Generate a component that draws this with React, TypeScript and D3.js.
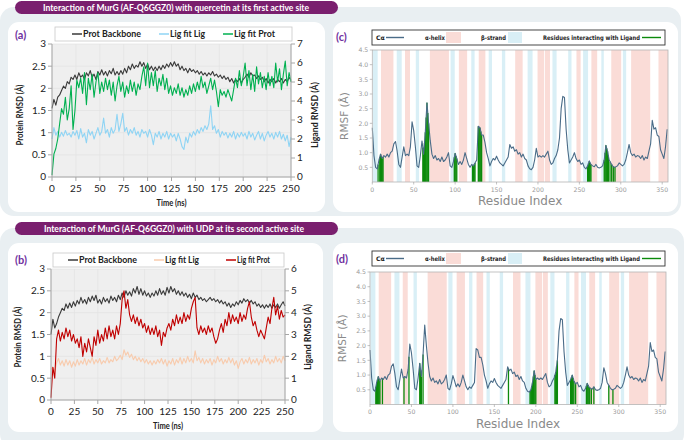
import React from "react";
import * as d3 from "d3";

// ---------------- DATA ----------------
const timeStepNs = 2; // sampling interval of the series below (t = 0..250 ns)
const timeTicks = [0, 25, 50, 75, 100, 125, 150, 175, 200, 225, 250];
const proteinTicks = [0, 0.5, 1, 1.5, 2, 2.5, 3];

// Panel (a): quercetin, first active site
const aBackbone = [
  1.55, 1.75, 1.62, 1.8, 1.85, 1.95, 2.05, 2.0, 2.15, 2.1,
  2.25, 2.2, 2.3, 2.2, 2.35, 2.25, 2.3, 2.2, 2.35, 2.28,
  2.4, 2.25, 2.32, 2.2, 2.38, 2.3, 2.42, 2.3, 2.38, 2.28,
  2.4, 2.33, 2.45, 2.3, 2.38, 2.3, 2.4, 2.32, 2.45, 2.35,
  2.5, 2.42, 2.55, 2.45, 2.52, 2.48, 2.6, 2.5, 2.58, 2.45,
  2.55, 2.42, 2.5, 2.4, 2.48, 2.4, 2.5, 2.42, 2.52, 2.45,
  2.55, 2.48, 2.58, 2.5, 2.6, 2.5, 2.55, 2.42, 2.5, 2.4,
  2.45, 2.35, 2.45, 2.38, 2.42, 2.35, 2.4, 2.32, 2.38, 2.3,
  2.35, 2.28, 2.35, 2.3, 2.38, 2.28, 2.32, 2.25, 2.3, 2.22,
  2.28, 2.2, 2.25, 2.15, 2.22, 2.12, 2.2, 2.15, 2.22, 2.12,
  2.2, 2.25, 2.32, 2.25, 2.35, 2.28, 2.3, 2.22, 2.28, 2.2,
  2.25, 2.15, 2.22, 2.12, 2.2, 2.15, 2.22, 2.12, 2.2, 2.15,
  2.22, 2.12, 2.2, 2.15, 2.25, 2.18,
];
const aLigFitLig = [
  2.0, 2.6, 2.2, 2.4, 2.1, 2.35, 2.15, 2.45, 2.2, 2.3,
  2.1, 2.4, 2.2, 2.45, 2.0, 2.55, 2.1, 2.3, 1.8, 2.5,
  2.2, 2.4, 2.0, 2.3, 2.6, 2.2, 2.4, 3.1, 2.3, 2.5,
  2.1, 2.6, 2.3, 2.5, 3.3, 2.4, 2.8, 3.35, 2.4, 2.6,
  2.2, 2.5, 2.3, 2.6, 2.2, 2.4, 2.1, 2.5, 2.3, 2.4,
  2.1, 2.5, 2.2, 1.7, 2.3, 2.1, 2.4, 2.0, 2.3, 2.1,
  2.4, 2.0, 2.3, 2.1, 2.25, 1.9, 2.3, 2.0, 1.6, 1.45,
  2.1, 1.8, 2.3, 2.1, 2.4, 2.2, 2.5, 2.3, 2.6, 2.4,
  2.7, 2.5, 2.8, 3.75, 2.5, 2.7, 2.3, 2.5, 2.1, 2.4,
  2.2, 2.35, 2.05, 2.3, 2.1, 2.4, 2.0, 2.3, 2.1, 2.35,
  2.15, 2.3, 2.0, 2.4, 2.1, 2.3, 1.95, 2.2, 2.4, 2.0,
  2.3, 1.9, 2.2, 2.4, 2.1, 2.3, 2.0, 2.35, 2.1, 2.4,
  2.0, 2.25, 1.9, 2.2, 1.6, 2.1,
];
const aLigFitProt = [
  0.1, 1.2, 1.5, 2.0, 2.8, 3.6, 3.3, 4.2, 3.0, 3.6,
  4.8, 2.5, 3.5, 5.1, 4.7, 5.2, 4.4, 5.5, 3.8, 5.2,
  4.6, 5.4, 4.2, 5.0, 5.5, 4.4, 5.0, 4.5, 5.2, 4.6,
  5.1, 4.3, 5.0, 4.0, 4.8, 5.3, 4.5, 5.0, 4.2, 4.8,
  4.4, 5.1, 4.5, 5.0, 4.3, 4.9, 4.6, 5.3, 5.8, 4.8,
  6.0, 4.7, 5.5, 4.8, 5.6, 4.5, 5.2, 4.8, 5.4, 4.6,
  5.2, 4.4, 4.8, 4.3, 4.7, 4.4, 4.9, 4.3, 4.7, 4.2,
  4.6, 4.3, 4.8, 4.4, 4.9, 4.5, 5.0, 4.6, 5.3, 4.7,
  5.0, 4.4, 4.8, 5.2, 4.6, 5.1, 4.5, 3.7, 4.6, 4.3,
  4.5, 4.2, 4.6, 4.3, 4.0, 4.6, 5.2, 4.7, 5.6, 4.8,
  5.3, 6.0, 4.8, 5.6, 4.6, 5.4, 4.5, 5.8, 4.9, 5.5,
  4.7, 5.3, 4.6, 5.5, 4.8, 5.3, 4.7, 6.0, 5.0, 5.7,
  4.6, 5.4, 6.1, 4.8, 5.5, 5.0,
];

// Panel (b): UDP, second active site
const bBackbone = [
  1.5, 1.85, 1.65, 1.75, 1.9, 2.0, 2.1, 2.05, 2.2, 2.1,
  2.22, 2.12, 2.25, 2.15, 2.28, 2.2, 2.35, 2.22, 2.3, 2.2,
  2.35, 2.25, 2.38, 2.28, 2.4, 2.22, 2.3, 2.2, 2.35, 2.25,
  2.32, 2.22, 2.38, 2.28, 2.35, 2.25, 2.4, 2.3, 2.45, 2.35,
  2.5, 2.4, 2.48, 2.38, 2.55, 2.45, 2.6, 2.42, 2.55, 2.4,
  2.5, 2.38, 2.45, 2.35, 2.45, 2.38, 2.5, 2.4, 2.55, 2.42,
  2.5, 2.4, 2.58, 2.45, 2.6, 2.48, 2.55, 2.42, 2.5, 2.4,
  2.48, 2.38, 2.45, 2.35, 2.42, 2.32, 2.45, 2.35, 2.4, 2.3,
  2.35, 2.28, 2.32, 2.25, 2.3, 2.35, 2.28, 2.32, 2.25, 2.3,
  2.22, 2.28, 2.2, 2.25, 2.15, 2.22, 2.12, 2.2, 2.15, 2.25,
  2.18, 2.28, 2.22, 2.32, 2.25, 2.3, 2.22, 2.28, 2.2, 2.25,
  2.15, 2.2, 2.12, 2.18, 2.1, 2.18, 2.12, 2.2, 2.1, 2.18,
  2.12, 2.2, 2.1, 2.18, 2.25, 2.15,
];
const bLigFitLig = [
  1.4, 1.5, 1.3, 1.7, 1.9, 1.6, 1.8, 1.55, 1.85, 1.6,
  1.8, 1.5, 1.75, 1.55, 1.85, 1.6, 1.8, 1.65, 1.9, 1.6,
  1.85, 1.7, 1.95, 1.65, 1.85, 1.7, 1.9, 1.65, 1.8, 1.7,
  1.95, 1.7, 1.85, 1.75, 2.0, 1.8, 1.9, 2.05, 1.85, 2.3,
  2.05, 2.2, 1.95, 2.1, 1.85, 2.0, 1.8, 1.95, 1.75, 1.9,
  1.7, 1.85, 1.65, 1.8, 1.6, 1.8, 1.65, 1.85, 1.7, 1.9,
  1.65, 1.85, 1.55, 1.8, 1.65, 1.9, 1.6, 1.85, 1.7, 1.95,
  1.65, 1.9, 1.7, 2.0, 1.75, 1.9, 1.7, 2.25, 1.8, 1.95,
  1.7, 1.9, 1.65, 1.85, 1.7, 1.9, 1.6, 1.85, 1.7, 2.0,
  1.75, 1.9, 1.65, 1.85, 1.7, 1.95, 1.7, 1.9, 1.6, 1.8,
  1.45, 1.75, 1.9, 1.65, 1.85, 1.7, 1.95, 1.65, 1.85, 1.7,
  1.9, 1.6, 1.85, 1.7, 2.05, 1.75, 1.9, 1.65, 1.85, 1.7,
  2.0, 1.75, 1.9, 1.7, 2.0, 1.8,
];
const bLigFitProt = [
  0.1, 1.5, 1.0, 2.8, 3.2, 2.7, 3.1, 2.8, 3.3, 2.9,
  3.2, 2.7, 3.0, 2.6, 2.8, 2.4, 2.9, 2.0, 2.6, 2.2,
  2.8, 2.4, 2.0, 2.9, 2.5, 3.2, 2.6, 3.0, 2.7, 3.3,
  2.8, 3.4, 2.9, 3.2, 2.8, 3.4, 3.0, 3.5, 4.6, 5.0,
  4.2, 4.6, 3.9, 3.6, 3.9, 3.5, 3.8, 3.4, 3.7, 3.3,
  3.5, 3.1, 3.4, 3.0, 3.3, 3.0, 3.4, 2.9, 3.2, 2.5,
  3.1, 2.9, 3.3, 3.5, 3.2, 3.7, 3.4, 3.9, 3.5, 3.8,
  3.5, 4.0, 3.6, 3.9, 3.7, 4.2, 4.5, 4.7, 3.3, 3.0,
  3.4, 3.1, 3.3, 3.0, 3.4, 3.1, 3.3, 2.9, 2.6, 2.8,
  3.2, 3.5, 3.1, 3.7, 3.4, 4.0, 3.5, 3.9, 3.6, 3.8,
  3.5, 4.0, 3.6, 3.9, 3.7, 4.2, 4.5, 3.8, 3.4, 3.6,
  3.2, 2.9, 3.2, 3.0, 2.8, 3.3, 3.8, 3.5, 4.2, 4.7,
  3.9, 4.3, 3.7, 4.1, 3.8, 3.9,
];

// Cα RMSF (Å), residues 0..356, every 2 residues
const rmsfStep = 2;
const rmsfValues = [
  1.85, 0.9, 0.5, 0.45, 0.75, 0.95, 0.8, 0.9, 0.85, 0.95,
  0.85, 1.0, 1.05, 1.3, 1.38, 1.05, 0.6, 0.5, 0.85, 1.2,
  0.9, 0.95, 0.9, 1.2, 2.05, 1.75, 1.2, 0.55, 0.5, 0.9,
  1.4, 0.95, 1.7, 2.7, 2.0, 1.4, 0.95, 0.8, 0.9, 0.75,
  0.8, 0.7, 0.85, 0.7, 0.75, 0.85, 1.0, 0.55, 0.5, 0.7,
  0.98, 0.8, 0.6, 0.7, 0.6, 0.75, 1.0, 0.8, 0.6, 0.5,
  0.6, 0.55, 0.65, 0.75, 1.9, 1.85, 1.6, 1.6, 1.35, 1.0,
  0.8, 0.55, 0.7, 0.8, 0.75, 0.88, 0.75, 0.65, 0.6, 0.55,
  0.65, 0.75, 0.85, 1.28, 1.15, 1.2, 1.05, 1.1, 0.95, 1.0,
  0.85, 0.95, 0.8, 0.75, 0.55, 0.45, 0.42, 0.5, 0.75, 1.15,
  0.85, 0.9, 0.85, 0.9, 0.85, 0.95, 1.05, 0.75, 0.6, 0.65,
  0.8, 0.9, 1.1, 1.5, 2.5, 2.92, 2.88, 1.8, 1.1, 0.65,
  0.75, 0.85, 1.0, 0.8, 0.7, 0.75, 0.6, 0.65, 0.5, 0.45,
  0.55, 0.72, 0.6, 0.55, 0.52, 0.6, 0.5, 0.48, 0.5, 0.55,
  0.75, 1.25, 1.05, 0.75, 0.65, 0.55, 0.5, 0.52, 0.55, 0.65,
  0.6, 0.55, 0.6, 0.75, 1.0, 1.28, 1.0, 0.9, 0.95, 0.85,
  0.9, 0.88, 0.8, 0.9, 0.75, 0.85, 0.8, 1.05, 1.3, 2.1,
  1.8, 1.85, 1.6, 1.55, 1.1, 0.95, 0.8, 1.2, 1.8,
];
const rmsfTicks = [0.5, 1.0, 1.5, 2.0, 2.5, 3.0, 3.5, 4.0, 4.5];
const residueTicks = [0, 50, 100, 150, 200, 250, 300, 350];

// secondary structure (residue ranges)
const helixRanges: [number, number][] = [
  [11, 25], [40, 45], [70, 92], [105, 114], [129, 136], [173, 181], [200, 207],
  [209, 214], [247, 251], [265, 271], [289, 300], [313, 335], [346, 357],
];
const strandRanges: [number, number][] = [
  [1, 6], [30, 35], [53, 56], [95, 99], [120, 123], [141, 144], [157, 160],
  [188, 193], [218, 222], [237, 240], [255, 260], [277, 279], [303, 306],
];
// residues interacting with ligand
const cContacts = [7, 9, 10, 11, 12, 13, 61, 62, 63, 64, 65, 66, 67, 68, 99, 100, 101, 102,
  121, 122, 123, 124, 128, 129, 130, 131, 132, 260, 261, 262, 263, 264,
  280, 281, 282, 283, 284, 285, 287, 289, 291, 293];
const dContacts = [7, 8, 9, 10, 11, 12, 15, 41, 47, 60, 61, 62, 64, 167, 193, 194, 195, 196,
  197, 198, 199, 200, 223, 224, 225, 226, 242, 243, 244, 245, 246, 248,
  261, 262, 263, 264, 265, 267, 270, 288, 293];

// ---------------- STYLE ----------------
const PURPLE_BAR = "#7a1f6e";
const LABEL_PURPLE = "#7030a0";
const OUTER = "#e9eff2";
const EXCEL_FONT = "Lato, 'Open Sans', sans-serif";
const MPL_FONT = "'DejaVu Sans', sans-serif";

type Series = { values: number[]; color: string; axis: "left" | "right" };
type LegendItem = { name: string; color: string; lx: number; tx: number; tl: number };
interface RmsdCfg {
  x0: number; x1: number; y0: number; y1: number;
  rightMax: number;
  series: Series[];
  box: [number, number, number, number];
  items: LegendItem[];
  label: string; labelY: number;
  leftTitleX: number; rightTitleX: number; titleCY: number;
  rightLabelX: number;
}

function RmsdPanel({ c }: { c: RmsdCfg }) {
  const x = d3.scaleLinear().domain([0, 250]).range([c.x0, c.x1]);
  const yL = d3.scaleLinear().domain([0, 3]).range([c.y1, c.y0]);
  const yR = d3.scaleLinear().domain([0, c.rightMax]).range([c.y1, c.y0]);
  const rightTicks = d3.range(0, c.rightMax + 1);
  const axisCol = "#a6a6a6";
  const [bx, by, bw, bh] = c.box;
  return (
    <g>
      <rect x={c.x0} y={c.y0} width={c.x1 - c.x0} height={c.y1 - c.y0} fill="#efefef" />
      {timeTicks.map((t) => (
        <line key={"gx" + t} x1={x(t)} x2={x(t)} y1={c.y0} y2={c.y1} stroke="#e2e2e2" strokeWidth={0.7} />
      ))}
      {proteinTicks.map((v) => (
        <line key={"gy" + v} x1={c.x0} x2={c.x1} y1={yL(v)} y2={yL(v)} stroke="#e2e2e2" strokeWidth={0.7} />
      ))}
      {c.series.map((s, i) => {
        const y = s.axis === "left" ? yL : yR;
        const d = d3.line<number>().x((_, j) => x(j * timeStepNs)).y((v) => y(v))(s.values);
        return <path key={i} d={d ?? ""} fill="none" stroke={s.color} strokeWidth={1.1} strokeLinejoin="round" />;
      })}
      {/* axes */}
      <line x1={c.x0} x2={c.x0} y1={c.y0} y2={c.y1} stroke={axisCol} />
      <line x1={c.x1} x2={c.x1} y1={c.y0} y2={c.y1} stroke={axisCol} />
      <line x1={c.x0} x2={c.x1} y1={c.y1} y2={c.y1} stroke={axisCol} />
      {proteinTicks.map((v) => (
        <g key={"lt" + v}>
          <line x1={c.x0 - 4} x2={c.x0} y1={yL(v)} y2={yL(v)} stroke={axisCol} />
          <text x={c.x0 - 6} y={yL(v) + 3.4} textAnchor="end" fontSize={10} fontFamily={EXCEL_FONT} fill="#222">
            {String(v)}
          </text>
        </g>
      ))}
      {rightTicks.map((v) => (
        <g key={"rt" + v}>
          <line x1={c.x1} x2={c.x1 + 4} y1={yR(v)} y2={yR(v)} stroke={axisCol} />
          <text x={c.rightLabelX} y={yR(v) + 3.4} textAnchor="start" fontSize={10} fontFamily={EXCEL_FONT} fill="#222">
            {String(v)}
          </text>
        </g>
      ))}
      {timeTicks.map((t) => (
        <g key={"bt" + t}>
          <line x1={x(t)} x2={x(t)} y1={c.y1} y2={c.y1 + 4} stroke={axisCol} />
          <text x={x(t)} y={c.y1 + 14.5} textAnchor="middle" fontSize={10} fontFamily={EXCEL_FONT} fill="#222">
            {String(t)}
          </text>
        </g>
      ))}
      <text x={(c.x0 + c.x1) / 2} y={c.y1 + 29} textAnchor="middle" fontSize={10} fontWeight={700}
        fontFamily={EXCEL_FONT} fill="#222" textLength={30} lengthAdjust="spacingAndGlyphs">
        Time (ns)
      </text>
      <text transform={`translate(${c.leftTitleX},${c.titleCY}) rotate(-90)`} textAnchor="middle" fontSize={10}
        fontWeight={700} fontFamily={EXCEL_FONT} fill="#222" textLength={61} lengthAdjust="spacingAndGlyphs">
        Protein RMSD (Å)
      </text>
      <text transform={`translate(${c.rightTitleX},${c.titleCY}) rotate(-90)`} textAnchor="middle" fontSize={10}
        fontWeight={700} fontFamily={EXCEL_FONT} fill="#222" textLength={66} lengthAdjust="spacingAndGlyphs">
        Ligand RMSD (Å)
      </text>
      {/* legend */}
      <rect x={bx} y={by} width={bw} height={bh} fill="#fff" stroke="#c8c8c8" strokeWidth={0.8} />
      {c.items.map((it) => (
        <g key={it.name}>
          <line x1={it.lx} x2={it.tx - 1} y1={by + bh / 2} y2={by + bh / 2} stroke={it.color} strokeWidth={1.5} />
          <text x={it.tx} y={by + bh / 2 + 3.4} fontSize={9.5} fontWeight={700} fontFamily={EXCEL_FONT} fill="#222"
            textLength={it.tl} lengthAdjust="spacingAndGlyphs">
            {it.name}
          </text>
        </g>
      ))}
      <text x={15} y={c.labelY} fontSize={11} fontWeight={700} fontFamily={EXCEL_FONT} fill={LABEL_PURPLE}>
        {c.label}
      </text>
    </g>
  );
}

interface RmsfCfg {
  x0: number; x1: number; y0: number; y1: number;
  contacts: number[];
  boxY: number;
  label: string; labelY: number;
}

function rmsfAt(r: number) {
  const i = Math.min(Math.floor(r / rmsfStep), rmsfValues.length - 2);
  const f = (r - i * rmsfStep) / rmsfStep;
  return rmsfValues[i] * (1 - f) + rmsfValues[i + 1] * f;
}

function RmsfPanel({ c }: { c: RmsfCfg }) {
  const x = d3.scaleLinear().domain([0, 357]).range([c.x0, c.x1]);
  const y = d3.scaleLinear().domain([0, 4.5]).range([c.y1, c.y0]);
  const clampX = (v: number) => Math.max(c.x0, Math.min(c.x1, v));
  const line = d3.line<number>().x((_, i) => x(i * rmsfStep)).y((v) => y(v))(rmsfValues) ?? "";
  const tickCol = "#9a9a9a";
  const bx = 372, bw = 293, bh = 15, by = c.boxY;
  const lt = { fontSize: 6.2, fontWeight: 700, fontFamily: MPL_FONT, fill: "#222" } as const;
  return (
    <g>
      {helixRanges.map(([a, b], i) => (
        <rect key={"h" + i} x={clampX(x(a - 0.5))} y={c.y0} width={clampX(x(b + 0.5)) - clampX(x(a - 0.5))}
          height={c.y1 - c.y0} fill="#fadcd7" />
      ))}
      {strandRanges.map(([a, b], i) => (
        <rect key={"s" + i} x={clampX(x(a - 0.5))} y={c.y0} width={clampX(x(b + 0.5)) - clampX(x(a - 0.5))}
          height={c.y1 - c.y0} fill="#d9eff6" />
      ))}
      {c.contacts.map((r) => (
        <line key={"c" + r} x1={x(r)} x2={x(r)} y1={c.y1} y2={y(rmsfAt(r))} stroke="#0b8a0b" strokeWidth={1.3} />
      ))}
      <path d={line} fill="none" stroke="#4a6c88" strokeWidth={1.1} strokeLinejoin="round" />
      <rect x={c.x0} y={c.y0} width={c.x1 - c.x0} height={c.y1 - c.y0} fill="none" stroke="#b5b5b5" strokeWidth={0.8} />
      {rmsfTicks.map((v) => (
        <g key={"yt" + v}>
          <line x1={c.x0 - 2.5} x2={c.x0} y1={y(v)} y2={y(v)} stroke={tickCol} strokeWidth={0.6} />
          <text x={c.x0 - 4} y={y(v) + 2.2} textAnchor="end" fontSize={6.2} fontFamily={MPL_FONT} fill={tickCol}>
            {v.toFixed(1)}
          </text>
        </g>
      ))}
      {residueTicks.map((r) => (
        <g key={"xt" + r}>
          <line x1={x(r)} x2={x(r)} y1={c.y1} y2={c.y1 + 2.5} stroke={tickCol} strokeWidth={0.6} />
          <text x={x(r)} y={c.y1 + 9.5} textAnchor="middle" fontSize={6.2} fontFamily={MPL_FONT} fill={tickCol}>
            {String(r)}
          </text>
        </g>
      ))}
      <text x={(c.x0 + c.x1) / 2} y={c.y1 + 23} textAnchor="middle" fontSize={12} fontFamily={MPL_FONT} fill="#8a8a8a">
        Residue Index
      </text>
      <text transform={`translate(${c.x0 - 24},${(c.y0 + c.y1) / 2}) rotate(-90)`} textAnchor="middle" fontSize={10.5}
        fontFamily={MPL_FONT} fill="#8a8a8a">
        RMSF (Å)
      </text>
      {/* legend */}
      <rect x={bx} y={by} width={bw} height={bh} fill="#fff" stroke="#333" strokeWidth={0.9} />
      <text x={bx + 4} y={by + 9.8} {...lt}>Cα</text>
      <line x1={bx + 14} x2={bx + 32} y1={by + 7.5} y2={by + 7.5} stroke="#4a6c88" strokeWidth={1.4} />
      <text x={bx + 53} y={by + 9.8} {...lt} textLength={20} lengthAdjust="spacingAndGlyphs">α-helix</text>
      <rect x={bx + 74} y={by + 2} width={15} height={11} fill="#fadcd7" />
      <text x={bx + 109} y={by + 9.8} {...lt} textLength={25} lengthAdjust="spacingAndGlyphs">β-strand</text>
      <rect x={bx + 136} y={by + 2} width={14} height={11} fill="#d9eff6" />
      <text x={bx + 171} y={by + 9.8} {...lt} textLength={97} lengthAdjust="spacingAndGlyphs">
        Residues interacting with Ligand
      </text>
      <line x1={bx + 270} x2={bx + 289} y1={by + 7.5} y2={by + 7.5} stroke="#0b8a0b" strokeWidth={1.4} />
      <text x={336} y={c.labelY} fontSize={11} fontWeight={700} fontFamily={EXCEL_FONT} fill={LABEL_PURPLE}>
        {c.label}
      </text>
    </g>
  );
}

const panelA: RmsdCfg = {
  x0: 52, x1: 291, y0: 44, y1: 177, rightMax: 7,
  series: [
    { values: aBackbone, color: "#3a3a3a", axis: "left" },
    { values: aLigFitLig, color: "#8fd4f4", axis: "right" },
    { values: aLigFitProt, color: "#00b050", axis: "right" },
  ],
  box: [55, 27, 237, 14],
  items: [
    { name: "Prot Backbone", color: "#3a3a3a", lx: 72, tx: 83, tl: 58 },
    { name: "Lig fit Lig", color: "#8fd4f4", lx: 159, tx: 170, tl: 35 },
    { name: "Lig fit Prot", color: "#00b050", lx: 223, tx: 234, tl: 41 },
  ],
  label: "(a)", labelY: 39,
  leftTitleX: 23, rightTitleX: 318, titleCY: 115, rightLabelX: 297,
};

const panelB: RmsdCfg = {
  x0: 51, x1: 285, y0: 269, y1: 400, rightMax: 6,
  series: [
    { values: bBackbone, color: "#3a3a3a", axis: "left" },
    { values: bLigFitLig, color: "#f8cbad", axis: "right" },
    { values: bLigFitProt, color: "#c00000", axis: "right" },
  ],
  box: [53, 253, 231, 14],
  items: [
    { name: "Prot Backbone", color: "#3a3a3a", lx: 68, tx: 79, tl: 58 },
    { name: "Lig fit Lig", color: "#f8cbad", lx: 154, tx: 165, tl: 34 },
    { name: "Lig fit Prot", color: "#c00000", lx: 226, tx: 237, tl: 33 },
  ],
  label: "(b)", labelY: 264,
  leftTitleX: 21, rightTitleX: 311, titleCY: 337, rightLabelX: 291,
};

const panelC: RmsfCfg = { x0: 372.3, x1: 668, y0: 50, y1: 182, contacts: cContacts, boxY: 30, label: "(c)", labelY: 41 };
const panelD: RmsfCfg = { x0: 370, x1: 666, y0: 272, y1: 404.5, contacts: dContacts, boxY: 251, label: "(d)", labelY: 263 };

export default function App() {
  return (
    <svg width={685} height={440} viewBox="0 0 685 440" style={{ position: "absolute", left: 0, top: 0, display: "block" }}>
      <rect x={0} y={0} width={685} height={440} fill="#ffffff" />
      {/* outer panels */}
      <rect x={0} y={7} width={681} height={209} rx={14} fill={OUTER} />
      <rect x={0} y={228} width={684} height={220} rx={14} fill={OUTER} />
      {/* cards */}
      <rect x={8} y={22} width={317} height={190} rx={11} fill="#fff" />
      <rect x={333} y={22} width={345} height={190} rx={11} fill="#fff" />
      <rect x={8} y={243} width={315} height={189} rx={11} fill="#fff" />
      <rect x={333} y={243} width={345} height={189} rx={11} fill="#fff" />
      {/* title bars */}
      <rect x={15} y={1} width={323} height={13} rx={6.5} fill={PURPLE_BAR} />
      <text x={176} y={10.6} textAnchor="middle" fontSize={8.6} fontWeight={700} fontFamily={EXCEL_FONT} fill="#fff"
        textLength={266} lengthAdjust="spacingAndGlyphs">
        Interaction of MurG (AF-Q6GGZ0) with quercetin at its first active site
      </text>
      <rect x={15} y={222} width={323} height={13} rx={6.5} fill={PURPLE_BAR} />
      <text x={174} y={231.6} textAnchor="middle" fontSize={8.6} fontWeight={700} fontFamily={EXCEL_FONT} fill="#fff"
        textLength={260} lengthAdjust="spacingAndGlyphs">
        Interaction of MurG (AF-Q6GGZ0) with UDP at its second active site
      </text>
      <RmsdPanel c={panelA} />
      <RmsdPanel c={panelB} />
      <RmsfPanel c={panelC} />
      <RmsfPanel c={panelD} />
    </svg>
  );
}
